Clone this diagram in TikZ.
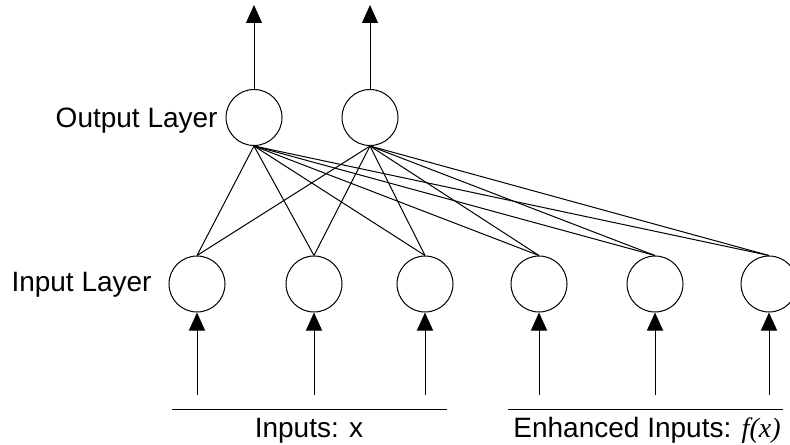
\documentclass[tikz,border=0pt]{standalone}
\usepackage{fontspec}
\setmainfont{Liberation Sans}
\newfontfamily\fxfont{Liberation Serif}
\usetikzlibrary{arrows.meta}
\tikzset{
  neuron/.style={draw,circle,minimum size=28pt,inner sep=0pt,line width=0.5pt},
  signal/.style={-{Triangle[length=9pt,width=8pt]},line width=0.5pt},
  link/.style={line width=0.5pt},
  caption/.style={inner sep=0pt}
}
\begin{document}
\begin{tikzpicture}[x=0.5pt,y=-0.5pt,font=\fontsize{14}{16}\selectfont]
\useasboundingbox (0,0) rectangle (790,444) ;
% output layer
\node [neuron] (O1) at (254,117.5) {} ;
\node [neuron] (O2) at (370,117.5) {} ;
\node [caption,anchor=base east] (outlabel) at (218,127) {Output Layer} ;
\coordinate (Y1) at (254,5) ;
\coordinate (Y2) at (370,5) ;
\draw [signal] (O1.north) -- (Y1) ;
\draw [signal] (O2.north) -- (Y2) ;
% input layer
\node [neuron] (I1) at (197,284) {} ;
\node [neuron] (I2) at (314,284) {} ;
\node [neuron] (I3) at (425,284) {} ;
\node [neuron] (I4) at (539,284) {} ;
\node [neuron] (I5) at (655,284) {} ;
\node [neuron] (I6) at (769,284) {} ;
\node [caption,anchor=base east] (inlabel) at (152,291) {Input Layer} ;
% every input feeds both outputs
\foreach \n in {1,...,6} {
  \draw [link] (O1.south) -- (I\n.north) ;
  \draw [link] (O2.south) -- (I\n.north) ;
}
% incoming signals
\coordinate (X1) at (197,395) ;
\coordinate (X2) at (314,395) ;
\coordinate (X3) at (425,395) ;
\coordinate (X4) at (539,395) ;
\coordinate (X5) at (655,395) ;
\coordinate (X6) at (769,395) ;
\foreach \n in {1,...,6}
  \draw [signal] (X\n) -- (I\n.south) ;
% groups of inputs
\coordinate (A1) at (172,409) ;
\coordinate (A2) at (447,409) ;
\coordinate (B1) at (508,409) ;
\coordinate (B2) at (783,409) ;
\draw [line width=0.5pt] (A1) -- (A2) ;
\draw [line width=0.5pt] (B1) -- (B2) ;
\node [caption,anchor=base] (rawlabel) at (309,437) {Inputs: x} ;
\node [caption,anchor=base] (enhlabel) at (647,437) {Enhanced Inputs: {\fxfont\itshape f(x)}} ;
\end{tikzpicture}
\end{document}
